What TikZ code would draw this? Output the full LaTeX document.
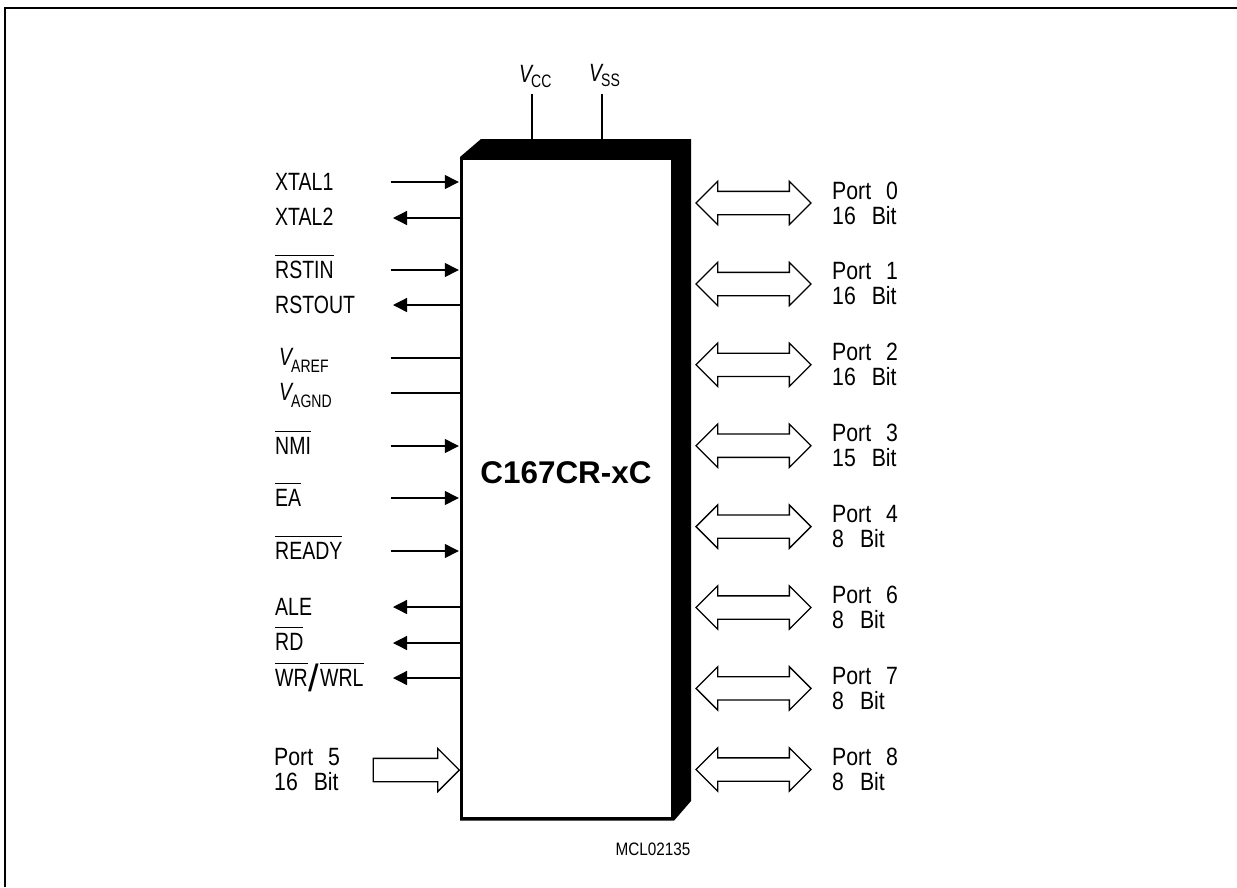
\documentclass[tikz,border=0pt]{standalone}
\usepackage{fontspec}
\setmainfont{Liberation Sans}
\newfontfamily\pinfont[FakeStretch=0.78]{Liberation Sans}
\newfontfamily\portfont[FakeStretch=0.85]{Liberation Sans}
\usetikzlibrary{arrows.meta,shapes.arrows}
\newcommand{\barred}[1]{$\overline{\hbox{\raisebox{0pt}[21.5pt][0pt]{#1}}}$}
\newcommand{\rail}[3][7pt]{{\itshape #2}\kern-1pt\raisebox{-#1}{\fontsize{18}{18}\selectfont #3}}
\newcommand{\bigslash}{\kern1pt\raisebox{-5pt}{\normalfont\fontsize{38}{38}\selectfont /}\kern1pt}
\newcommand{\porttext}[2]{Port\hspace{15pt}#1\\#2}
\tikzset{
  pin/.style={line width=1.3pt},
  pinin/.style={pin,-{Triangle[length=14pt,width=14pt]},shorten >=4.3pt},
  pinout/.style={pin,-{Triangle[length=14pt,width=14pt]}},
  pinlabel/.style={anchor=base west,yshift=-9pt,inner sep=0pt,font=\pinfont\fontsize{25}{27}\selectfont},
  portlabel/.style={anchor=west,inner sep=0pt,align=left,font=\portfont\fontsize{25}{25}\selectfont},
  portarrow/.style={double arrow,draw,line width=1.3pt,inner xsep=0pt,inner ysep=11pt,minimum height=115pt,
    double arrow head extend=10pt,double arrow tip angle=90},
  inarrow/.style={single arrow,draw,line width=1.3pt,inner xsep=0pt,inner ysep=11pt,minimum height=86pt,
    single arrow head extend=10pt,single arrow tip angle=90}
}
\begin{document}
\begin{tikzpicture}[x=1pt,y=-1pt]
\useasboundingbox (0,0) rectangle (1237,887);
% outer frame
\coordinate (framea) at (5,887);
\coordinate (frameb) at (5,8);
\coordinate (framec) at (1237,8);
\draw [line width=2.4pt] (framea) -- (frameb) -- (framec);

% block with its heavy edge
\fill (460,157) -- (481,139) -- (691,139) -- (691,801) -- (674,820.7) -- (460,820.7) -- cycle;
\node [fill=white,minimum width=207.7pt,minimum height=657.8pt,inner sep=0pt] (chip) at (567.15,488.4) {};
\node [font=\bfseries\fontsize{31.4}{33}\selectfont,inner sep=0pt] (chipname) at (566,473) {C167CR-xC};
\node [font=\portfont\fontsize{18}{20}\selectfont,inner sep=0pt] (mcl) at (653,849) {MCL02135};

% supply
\node [pinlabel] (vcc) at (519,73) {\rail[5pt]{V}{CC}};
\node [pinlabel] (vss) at (589,72) {\rail[5pt]{V}{SS}};
\coordinate (vccend) at (532,94);
\coordinate (vssend) at (602,94);
\draw [pin] (vccend) -- (vccend |- 0,140);
\draw [pin] (vssend) -- (vssend |- 0,140);

% left pins
\node [pinlabel] (xtalone) at (275,181) {XTAL1};
\node [pinlabel] (xtaltwo) at (275,216) {XTAL2};
\node [pinlabel] (rstin) at (275,269) {\barred{RSTIN}};
\node [pinlabel] (rstout) at (275,304) {RSTOUT};
\node [pinlabel] (varef) at (279,356) {\rail{V}{AREF}};
\node [pinlabel] (vagnd) at (279,391) {\rail{V}{AGND}};
\node [pinlabel] (nmi) at (275,445) {\barred{NMI}};
\node [pinlabel] (ea) at (275,497.5) {\barred{EA}};
\node [pinlabel] (ready) at (275,550) {\barred{READY}};
\node [pinlabel] (ale) at (275,606) {ALE};
\node [pinlabel] (rd) at (275,641) {\barred{RD}};
\node [pinlabel] (wr) at (275,677) {\barred{WR}\bigslash\barred{WRL}};

\coordinate (xtaloneend) at (391,182);
\coordinate (xtaltwoend) at (393,218);
\coordinate (rstinend) at (391,270);
\coordinate (rstoutend) at (393,305);
\coordinate (varefend) at (391,358);
\coordinate (vagndend) at (391,393);
\coordinate (nmiend) at (391,446);
\coordinate (eaend) at (391,498);
\coordinate (readyend) at (391,551);
\coordinate (aleend) at (393,607);
\coordinate (rdend) at (393,643);
\coordinate (wrend) at (393,678);

\draw [pinin] (xtaloneend) -- (xtaloneend -| chip.west);
\draw [pinout] (xtaltwoend -| chip.west) -- (xtaltwoend);
\draw [pinin] (rstinend) -- (rstinend -| chip.west);
\draw [pinout] (rstoutend -| chip.west) -- (rstoutend);
\draw [pin] (varefend) -- (varefend -| chip.west);
\draw [pin] (vagndend) -- (vagndend -| chip.west);
\draw [pinin] (nmiend) -- (nmiend -| chip.west);
\draw [pinin] (eaend) -- (eaend -| chip.west);
\draw [pinin] (readyend) -- (readyend -| chip.west);
\draw [pinout] (aleend -| chip.west) -- (aleend);
\draw [pinout] (rdend -| chip.west) -- (rdend);
\draw [pinout] (wrend -| chip.west) -- (wrend);

% port 5
\node [inarrow] (pfive) at (410.5,770) {};
\node [portlabel] (pfivetext) at (274,770) {\porttext{5}{16\hspace{16pt}Bit}};

% right ports
\node [portarrow] (pzero) at (753.5,203) {};
\node [portarrow] (pone) at (753.5,284) {};
\node [portarrow] (ptwo) at (753.5,364.8) {};
\node [portarrow] (pthree) at (753.5,445.7) {};
\node [portarrow] (pfour) at (753.5,526.6) {};
\node [portarrow] (psix) at (753.5,607.5) {};
\node [portarrow] (pseven) at (753.5,688.4) {};
\node [portarrow] (peight) at (753.5,769.5) {};
\node [portlabel] (pzerotext) at (832,203) {\porttext{0}{16\hspace{16pt}Bit}};
\node [portlabel] (ponetext) at (832,284) {\porttext{1}{16\hspace{16pt}Bit}};
\node [portlabel] (ptwotext) at (832,364.8) {\porttext{2}{16\hspace{16pt}Bit}};
\node [portlabel] (pthreetext) at (832,445.7) {\porttext{3}{15\hspace{16pt}Bit}};
\node [portlabel] (pfourtext) at (832,526.6) {\porttext{4}{8\hspace{16pt}Bit}};
\node [portlabel] (psixtext) at (832,607.5) {\porttext{6}{8\hspace{16pt}Bit}};
\node [portlabel] (pseventext) at (832,688.4) {\porttext{7}{8\hspace{16pt}Bit}};
\node [portlabel] (peighttext) at (832,769.5) {\porttext{8}{8\hspace{16pt}Bit}};
\end{tikzpicture}
\end{document}
